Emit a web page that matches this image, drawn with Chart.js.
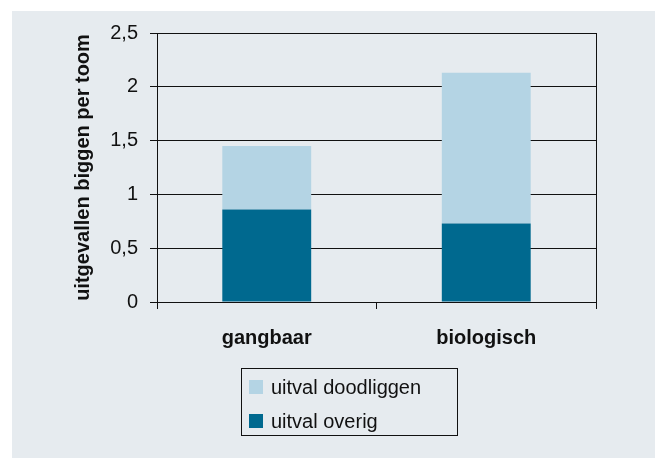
<!DOCTYPE html>
<html>
<head>
<meta charset="utf-8">
<script src="https://cdn.jsdelivr.net/npm/chart.js@4.4.0/dist/chart.umd.min.js"></script>
<style>
  html, body { margin: 0; padding: 0; background: #ffffff; }
  #wrap { width: 658px; height: 458px; }
</style>
</head>
<body>
<div id="wrap"><canvas id="chart" width="658" height="458"></canvas></div>
<script>
// --- data ---
const categories = ['gangbaar', 'biologisch'];
const seriesNames = ['uitval overig', 'uitval doodliggen'];
const uitvalOverig = [0.86, 0.73];
const uitvalDoodliggen = [0.59, 1.40];
const yTickValues = [0, 0.5, 1, 1.5, 2, 2.5];
const yTitle = 'uitgevallen biggen per toom';

const DARK_BLUE = '#00698f';
const LIGHT_BLUE = '#b4d4e4';
const PANEL = '#e6ebef';
const INK = '#111111';
const FONT = 'Liberation Sans, Arial, Helvetica, sans-serif';

// grey panel behind everything
const panelPlugin = {
    id: 'panel',
    beforeDraw(chart) {
        const ctx = chart.ctx;
        ctx.save();
        ctx.fillStyle = PANEL;
        ctx.fillRect(12, 11, 643, 447);
        ctx.restore();
    }
};

// right side of the plot frame
const framePlugin = {
    id: 'frame',
    afterDatasetsDraw(chart) {
        const { ctx, chartArea } = chart;
        ctx.save();
        ctx.strokeStyle = INK;
        ctx.lineWidth = 1;
        ctx.beginPath();
        ctx.moveTo(Math.round(chartArea.right) + 0.5, chartArea.top);
        ctx.lineTo(Math.round(chartArea.right) + 0.5, chartArea.bottom + 7);
        ctx.stroke();
        ctx.restore();
    }
};

// boxed legend under the chart, top item = top of stack
const boxLegendPlugin = {
    id: 'boxLegend',
    afterDraw(chart) {
        const ctx = chart.ctx;
        const sets = chart.data.datasets.slice().reverse();
        ctx.save();
        ctx.strokeStyle = INK;
        ctx.lineWidth = 1;
        ctx.strokeRect(241.5, 368.5, 216, 67);
        ctx.font = '20px ' + FONT;
        ctx.textBaseline = 'middle';
        ctx.fillStyle = INK;
        sets.forEach((ds, i) => {
            const y = 387 + i * 34;
            ctx.fillStyle = ds.backgroundColor;
            ctx.fillRect(249, y - 7, 14, 14);
            ctx.fillStyle = INK;
            ctx.fillText(ds.label, 271, y + 1);
        });
        ctx.restore();
    }
};

new Chart(document.getElementById('chart'), {
    type: 'bar',
    data: {
        labels: categories,
        datasets: [
            { label: seriesNames[0], data: uitvalOverig, backgroundColor: DARK_BLUE },
            { label: seriesNames[1], data: uitvalDoodliggen, backgroundColor: LIGHT_BLUE }
        ]
    },
    options: {
        responsive: false,
        animation: false,
        events: [],
        layout: { padding: { left: 0, right: 62, top: 33, bottom: 100 } },
        datasets: { bar: { barPercentage: 0.405, categoryPercentage: 1 } },
        plugins: { legend: { display: false }, tooltip: { enabled: false } },
        scales: {
            x: {
                stacked: true,
                afterFit: s => { s.height = 56; },
                grid: { drawOnChartArea: false, drawTicks: true, tickLength: 7, color: INK },
                border: { display: true, color: INK },
                ticks: { color: INK, padding: 17, font: { family: FONT, size: 20, weight: 'bold' } }
            },
            y: {
                stacked: true,
                min: 0,
                max: 2.5,
                afterFit: s => { s.width = 157; },
                afterBuildTicks: s => { s.ticks = yTickValues.map(v => ({ value: v })); },
                grid: { color: INK, tickLength: 7, drawTicks: true },
                border: { display: true, color: INK },
                ticks: {
                    color: INK,
                    padding: 12,
                    font: { family: FONT, size: 20 },
                    callback: v => String(v).replace('.', ',')
                },
                title: {
                    display: true,
                    text: yTitle,
                    color: INK,
                    padding: { top: 71, bottom: 0 },
                    font: { family: FONT, size: 20, weight: 'bold' }
                }
            }
        }
    },
    plugins: [panelPlugin, framePlugin, boxLegendPlugin]
});
</script>
</body>
</html>
